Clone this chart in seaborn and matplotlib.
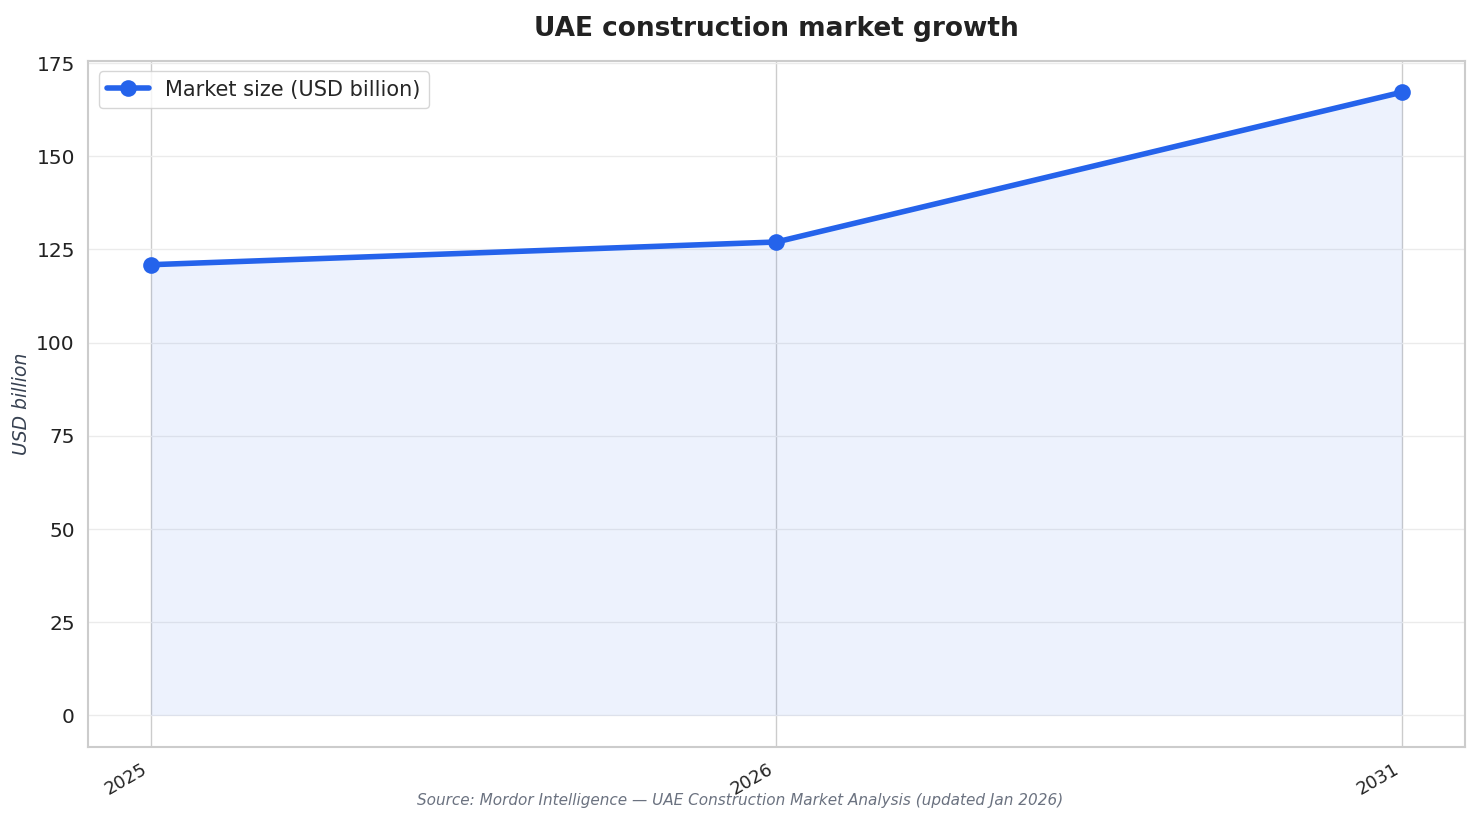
import numpy as np
import pandas as pd
import matplotlib
matplotlib.use("Agg")
import matplotlib.pyplot as plt
import seaborn as sns

# 데이터
years = ["2025", "2026", "2031"]
market_size = [120.9, 127.0, 167.2]
series_label = "Market size (USD billion)"

LINE_COLOR = "#2563eb"

sns.set_theme(style="whitegrid")
plt.rcParams["font.family"] = ["DejaVu Sans"]

df = pd.DataFrame({"pos": np.arange(len(years)), "size": market_size})

fig, ax = plt.subplots(figsize=(14.81, 8.24), dpi=100)

sns.lineplot(data=df, x="pos", y="size", ax=ax, color=LINE_COLOR, linewidth=4,
             marker="o", markersize=12, markeredgewidth=0, label=series_label)
ax.fill_between(df["pos"], df["size"], 0, color=LINE_COLOR, alpha=0.08, linewidth=0)

ax.set_xticks(df["pos"])
ax.set_xticklabels(years, rotation=30, ha="right", fontsize=13, color="#222222")
ax.tick_params(axis="y", labelsize=14.5, labelcolor="#222222")
ax.set_xlabel("")
ax.set_ylabel("USD billion", fontsize=13.5, style="italic", color="#374151")
ax.set_title("UAE construction market growth", fontsize=19, fontweight="bold",
             color="#222222", pad=18)

# 그리드 / 축선
ax.xaxis.grid(True, color="#cccccc", linewidth=1)
ax.yaxis.grid(True, color="#ebebeb", linewidth=1)
for sp in ax.spines.values():
    sp.set_color("#cccccc")
    sp.set_linewidth(1.5)

leg = ax.legend(loc="upper left", fontsize=15, frameon=True)
leg.get_frame().set_edgecolor("#cccccc")

fig.text(0.5, 0.028, "Source: Mordor Intelligence \u2014 UAE Construction Market Analysis (updated Jan 2026)",
         ha="center", va="center", fontsize=11, style="italic", color="#6b7280")

plt.subplots_adjust(left=0.0595, right=0.989, top=0.926, bottom=0.094)
plt.savefig("out.png", dpi=100)
plt.close()
